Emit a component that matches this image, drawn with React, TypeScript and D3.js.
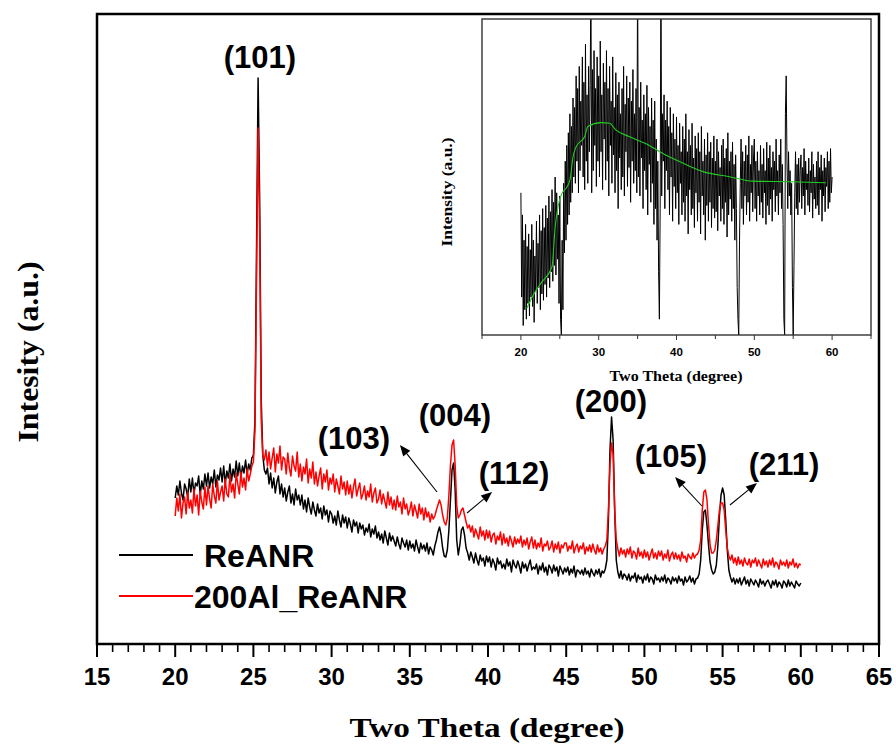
import React from 'react';
import * as d3 from 'd3';

const W = 896;
const H = 746;

// 2θ grid start/step for the scanned patterns (20° – 60°)
const thetaStart = 20;
const thetaStep = 0.1;

// ReANR intensity (a.u.), one value per 0.1°, 20.0 → 60.0
const reANR = [
  146,158,149,163,151,144,160,155,147,165,
  152,166,150,161,158,168,149,163,155,170,
  158,171,156,167,160,174,157,169,164,176,
  162,178,160,173,166,180,163,175,167,183,
  168,181,166,178,171,184,170,180,174,186,
  189,224,394,566,444,244,189,174,170,176,
  160,171,156,166,151,162,168,150,160,147,
  156,143,152,158,141,150,139,155,144,149,
  139,149,135,144,132,146,137,130,142,134,
  128,140,131,136,125,138,129,134,122,133,
  130,121,128,119,133,124,117,129,121,127,
  116,126,120,112,124,118,122,111,121,115,
  119,109,116,112,120,107,115,110,118,106,
  112,104,110,101,113,106,99,111,103,108,
  103,98,107,100,95,106,101,97,104,94,
  103,96,100,93,104,97,91,101,95,99,
  93,101,90,97,94,89,98,104,112,117,
  109,96,88,87,94,114,144,174,181,154,
  104,89,99,114,117,109,96,91,84,92,
  87,81,91,84,79,89,83,86,78,88,
  82,87,77,85,81,74,86,80,83,76,
  80,75,85,78,82,72,84,79,76,83,
  78,71,82,76,80,73,79,84,74,77,
  75,80,70,78,74,81,72,77,69,79,
  76,71,79,73,77,68,78,74,70,76,
  72,77,69,75,71,78,67,74,73,70,
  74,69,76,70,73,67,75,71,68,74,
  70,75,67,73,71,75,84,124,194,227,
  204,134,84,72,66,73,65,70,68,64,
  70,63,68,66,71,62,69,65,67,61,
  68,64,70,62,67,65,60,69,64,66,
  62,67,63,69,61,66,64,60,67,63,
  66,61,68,63,65,59,67,62,64,68,
  62,66,60,65,66,70,84,114,132,134,
  119,99,82,74,70,72,79,99,129,149,
  156,149,124,94,74,67,62,66,60,65,
  61,66,59,63,67,60,64,58,65,62,
  59,64,61,57,65,60,63,58,62,64,
  60,56,63,59,64,57,62,60,56,63,
  61,57,64,58,62,59,56,63,60,58,
  61,
];

// 200Al_ReANR intensity (a.u.), one value per 0.1°, 20.0 → 60.0
const al200ReANR = [
  128,146,133,150,126,141,147,130,152,136,
  144,131,155,138,149,129,153,142,135,157,
  139,158,145,136,160,148,141,163,144,152,
  158,143,165,150,147,169,152,160,146,171,
  160,150,172,157,166,154,175,163,170,178,
  182,214,364,516,414,224,189,184,194,178,
  192,175,186,196,172,190,181,198,174,187,
  185,170,191,176,168,188,178,173,192,167,
  180,163,177,170,185,161,175,166,182,160,
  172,158,168,176,155,170,162,174,154,166,
  160,170,152,165,158,150,168,155,162,149,
  163,150,159,146,157,165,148,155,161,145,
  150,158,144,153,147,160,142,151,156,141,
  145,154,140,150,143,136,152,139,147,135,
  144,134,148,137,142,130,146,135,140,129,
  134,142,128,139,133,126,140,130,136,124,
  136,127,132,122,130,125,128,134,139,144,
  139,129,122,119,126,149,179,199,204,179,
  139,126,129,134,136,129,122,116,119,112,
  118,107,115,110,105,117,108,113,104,114,
  106,113,102,109,111,100,108,104,112,99,
  110,101,106,98,108,103,97,107,100,105,
  101,108,97,104,99,106,95,102,107,96,
  104,95,101,97,106,93,100,98,103,94,
  97,103,92,100,95,102,91,99,96,101,
  101,93,98,95,103,91,97,100,92,98,
  95,101,90,97,93,99,92,100,94,90,
  99,92,96,90,95,98,104,134,179,201,
  189,134,104,95,88,96,90,94,87,95,
  90,97,86,93,91,85,96,88,92,86,
  94,87,92,84,90,95,86,91,85,93,
  88,93,84,90,86,94,83,89,92,85,
  91,85,89,83,92,86,88,82,90,87,
  85,91,86,89,90,94,104,134,152,154,
  144,119,99,91,91,94,104,119,134,141,
  141,134,114,96,88,84,89,81,86,79,
  87,80,84,78,86,81,79,85,77,84,
  81,86,78,84,80,76,85,79,83,77,
  84,79,86,77,82,80,75,84,79,82,
  78,84,76,82,79,85,77,81,76,80,
  79,
];

// Inset: difference signal (a.u., 0–100 scale), one value per 0.1°, 20.0 → 60.0
const insetSignal = [
  45,12,38,3,30,8,35,5,28,10,
  32,6,27,12,35,9,30,4,25,14,
  36,10,29,15,38,8,33,13,40,11,
  34,16,41,12,37,18,44,15,39,20,
  46,17,42,22,50,19,45,24,38,10,
  44,5,0,30,8,48,26,55,30,60,
  35,64,38,70,42,66,45,75,50,72,
  48,82,55,78,45,85,52,74,60,88,
  50,80,46,92,55,76,48,85,58,79,
  112,45,84,52,90,60,78,47,88,55,
  82,50,93,58,76,46,86,62,80,49,
  90,55,78,44,85,60,74,48,88,57,
  72,45,83,52,76,40,80,56,70,46,
  78,50,85,44,73,58,82,47,75,53,
  80,42,74,55,84,48,70,52,78,45,
  115,50,72,44,80,56,68,40,76,52,
  70,46,79,38,72,54,66,42,75,48,
  68,35,74,40,62,30,55,20,5,40,
  118,44,70,55,76,40,68,52,74,46,
  66,38,72,50,64,36,70,47,62,40,
  69,45,60,35,67,48,58,38,66,42,
  62,36,70,44,58,32,65,46,60,38,
  67,40,56,34,63,45,59,36,64,42,
  58,32,66,44,55,38,62,30,57,41,
  64,36,58,42,61,34,56,40,63,37,
  55,39,62,33,58,44,53,36,60,40,
  62,35,56,42,59,31,64,38,55,43,
  58,36,61,40,54,30,57,40,15,5,
  0,30,48,62,40,58,35,55,44,60,
  38,57,42,63,36,54,45,60,39,56,
  62,40,55,36,58,44,52,38,60,42,
  54,37,59,45,52,35,61,41,56,38,
  60,43,53,36,58,46,55,39,62,44,
  52,38,57,45,62,40,54,35,5,0,
  70,82,55,40,58,44,52,38,48,15,
  0,22,45,58,40,54,38,56,42,52,
  57,40,53,44,59,38,55,46,51,41,
  56,39,52,45,58,37,54,43,50,40,
  55,41,58,38,53,46,57,36,52,44,
  56,39,53,47,58,40,55,42,59,45,
  50,
];

// Inset smoothed background (green)
const greenTheta = [20.75, 21.6, 22.6, 24.0, 24.4, 25.0, 26.3, 26.7, 27.1, 28.2, 28.6, 30.3, 31.4, 32.2, 33.9, 36.5, 38.2, 40.8, 43.4, 46.8, 49.8, 54.5, 59.2];
const greenValue = [8.4, 12.7, 16.5, 21.6, 34, 43, 49, 56.4, 59.6, 62.8, 66, 67.2, 67, 64.9, 62.8, 60, 57.5, 54.4, 51.7, 50.1, 48.7, 48.5, 48.2];

const xTickValues = [15, 20, 25, 30, 35, 40, 45, 50, 55, 60, 65];
const insetTickLabels = [20, 30, 40, 50, 60];

const peakNames = ['(101)', '(103)', '(004)', '(112)', '(200)', '(105)', '(211)'];
const peakLabelTheta = [25.42, 31.43, 37.89, 41.66, 47.86, 51.7, 58.93];
const peakLabelInt = [576, 195, 218, 160, 232, 177, 169];

const arrowFromTheta = [36.74, 38.66, 53.68, 55.47];
const arrowFromInt = [152, 131, 138, 139];
const arrowToTheta = [34.37, 40.26, 51.96, 57.2];
const arrowToInt = [199, 152, 167, 161];

const seriesNames = ['ReANR', '200Al_ReANR'];
const seriesColors = ['#000000', '#ff0000'];

const SANS = "'Liberation Sans', Arial, Helvetica, sans-serif";
const SERIF = "'Liberation Serif', 'Times New Roman', Times, serif";

export default function App() {
  const x = d3.scaleLinear().domain([15, 65]).range([97, 879]);
  const y = d3.scaleLinear().domain([0, 630]).range([644, 14]);
  const xi = d3.scaleLinear().domain([15, 65]).range([482, 871]);
  const yi = d3.scaleLinear().domain([0, 100]).range([335, 19]);

  const th = (i: number) => thetaStart + i * thetaStep;
  const mainLine = d3.line<number>().x((_, i) => x(th(i))).y((d) => y(d));
  const insetLine = d3.line<number>().x((_, i) => xi(th(i))).y((d) => yi(d));
  const greenLine = d3
    .line<number>()
    .x((_, i) => xi(greenTheta[i]))
    .y((d) => yi(d))
    .curve(d3.curveMonotoneX);

  const minorTicks = d3.range(15, 65.001, 1).filter((v) => v % 5 !== 0);
  const insetTicks = d3.range(15, 65.001, 5);

  const arrows = arrowFromTheta.map((_, i) => {
    const x1 = x(arrowFromTheta[i]);
    const y1 = y(arrowFromInt[i]);
    const x2 = x(arrowToTheta[i]);
    const y2 = y(arrowToInt[i]);
    const dx = x2 - x1;
    const dy = y2 - y1;
    const len = Math.hypot(dx, dy);
    const ux = dx / len;
    const uy = dy / len;
    const L = 11;
    const w = 4.5;
    const bx = x2 - ux * L;
    const by = y2 - uy * L;
    const pts = [
      [x2, y2],
      [bx - uy * w, by + ux * w],
      [bx + uy * w, by - ux * w],
    ];
    return { x1, y1, bx, by, pts };
  });

  const series = [reANR, al200ReANR];

  return (
    <svg
      width={W}
      height={H}
      style={{ position: 'absolute', left: 0, top: 0, background: '#fff' }}
      xmlns="http://www.w3.org/2000/svg"
    >
      <defs>
        <clipPath id="mainClip">
          <rect x={97} y={14} width={782} height={630} />
        </clipPath>
        <clipPath id="insetClip">
          <rect x={482} y={19} width={389} height={316} />
        </clipPath>
      </defs>
      <rect x={0} y={0} width={W} height={H} fill="#fff" />

      {/* main series */}
      <g clipPath="url(#mainClip)">
        {series.map((s, k) => (
          <path
            key={k}
            d={mainLine(s) || ''}
            fill="none"
            stroke={seriesColors[k]}
            strokeWidth={1.5}
            strokeLinejoin="round"
          />
        ))}
      </g>

      {/* main frame */}
      <rect x={97} y={14} width={782} height={630} fill="none" stroke="#000" strokeWidth={2.5} />

      {/* x ticks */}
      {xTickValues.map((v) => (
        <g key={'t' + v}>
          <line x1={x(v)} x2={x(v)} y1={644} y2={657} stroke="#000" strokeWidth={2} />
          <text
            x={x(v)}
            y={685}
            textAnchor="middle"
            fontFamily={SANS}
            fontWeight="bold"
            fontSize={24}
            fill="#000"
          >
            {v}
          </text>
        </g>
      ))}
      {minorTicks.map((v) => (
        <line key={'m' + v} x1={x(v)} x2={x(v)} y1={644} y2={652} stroke="#000" strokeWidth={1.6} />
      ))}

      {/* axis titles */}
      <text
        x={487}
        y={737}
        textAnchor="middle"
        fontFamily={SERIF}
        fontWeight="bold"
        fontSize={27}
        textLength={275}
        lengthAdjust="spacingAndGlyphs"
        fill="#000"
      >
        Two Theta (degree)
      </text>
      <text
        transform="translate(38,352) rotate(-90)"
        textAnchor="middle"
        fontFamily={SERIF}
        fontWeight="bold"
        fontSize={30}
        textLength={181}
        lengthAdjust="spacingAndGlyphs"
        fill="#000"
      >
        Intesity (a.u.)
      </text>

      {/* peak labels */}
      {peakNames.map((n, i) => (
        <text
          key={n}
          x={x(peakLabelTheta[i])}
          y={y(peakLabelInt[i])}
          textAnchor="middle"
          fontFamily={SANS}
          fontWeight="bold"
          fontSize={31}
          fill="#000"
        >
          {n}
        </text>
      ))}

      {/* arrows */}
      {arrows.map((a, i) => (
        <g key={'a' + i}>
          <line x1={a.x1} y1={a.y1} x2={a.bx} y2={a.by} stroke="#000" strokeWidth={1.1} />
          <polygon points={a.pts.map((p) => p.join(',')).join(' ')} fill="#000" />
        </g>
      ))}

      {/* legend */}
      {seriesNames.map((n, i) => (
        <g key={n}>
          <line
            x1={119}
            x2={193}
            y1={555 + i * 41}
            y2={555 + i * 41}
            stroke={seriesColors[i]}
            strokeWidth={2}
          />
          <text
            x={i === 0 ? 204 : 194}
            y={567 + i * 41}
            fontFamily={SANS}
            fontWeight="bold"
            fontSize={32}
            fill="#000"
          >
            {n}
          </text>
        </g>
      ))}

      {/* inset */}
      <rect x={482} y={19} width={389} height={316} fill="#fff" />
      <g clipPath="url(#insetClip)">
        <path
          d={insetLine(insetSignal) || ''}
          fill="none"
          stroke="#000"
          strokeWidth={1}
          strokeLinejoin="miter"
        />
        <path d={greenLine(greenValue) || ''} fill="none" stroke="#22cc22" strokeWidth={1.1} />
      </g>
      <rect x={482} y={19} width={389} height={316} fill="none" stroke="#333" strokeWidth={1.4} />
      {insetTicks.map((v) => (
        <line
          key={'it' + v}
          x1={xi(v)}
          x2={xi(v)}
          y1={335}
          y2={insetTickLabels.includes(v) ? 340 : 339}
          stroke="#333"
          strokeWidth={1}
        />
      ))}
      {insetTickLabels.map((v) => (
        <text
          key={'il' + v}
          x={xi(v)}
          y={356}
          textAnchor="middle"
          fontFamily={SANS}
          fontWeight="bold"
          fontSize={11.5}
          fill="#000"
        >
          {v}
        </text>
      ))}
      <text
        x={676}
        y={381}
        textAnchor="middle"
        fontFamily={SERIF}
        fontWeight="bold"
        fontSize={15}
        textLength={133}
        lengthAdjust="spacingAndGlyphs"
        fill="#000"
      >
        Two Theta (degree)
      </text>
      <text
        transform="translate(452,192) rotate(-90)"
        textAnchor="middle"
        fontFamily={SERIF}
        fontWeight="bold"
        fontSize={15}
        textLength={109}
        lengthAdjust="spacingAndGlyphs"
        fill="#000"
      >
        Intensity (a.u.)
      </text>
    </svg>
  );
}
